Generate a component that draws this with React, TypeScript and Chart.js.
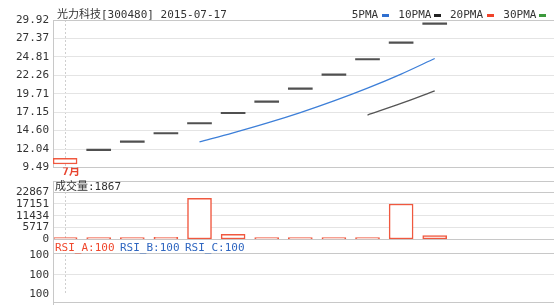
import React, { useEffect, useRef } from 'react';
import { Chart, registerables } from 'chart.js';

Chart.register(...registerables);

// ---------- data ----------
const titleText = '光力科技[300480] 2015-07-17';
const dayIndex = [0, 1, 2, 3, 4, 5, 6, 7, 8, 9, 10, 11];
const openPrices = [9.97, 11.82, 12.98, 14.13, 15.52, 16.94, 18.52, 20.32, 22.26, 24.38, 26.69, 29.32];
const closePrices = [10.75, 11.82, 12.98, 14.13, 15.52, 16.94, 18.52, 20.32, 22.26, 24.38, 26.69, 29.32];
const ma5Values = [null, null, null, null, 13.04, 14.28, 15.62, 17.09, 18.71, 20.48, 22.43, 24.59];
const ma10Values = [null, null, null, null, null, null, null, null, null, 16.76, 18.36, 20.11];
const volumes = [150, 180, 200, 1060, 19830, 2500, 220, 260, 300, 950, 17080, 1867];
const priceTickLabels = ['9.49', '12.04', '14.60', '17.15', '19.71', '22.26', '24.81', '27.37', '29.92'];
const volumeTickLabels = ['0', '5717', '11434', '17151', '22867'];
const rsiTickValues = [99, 100, 101];
const rsiTickLabels = ['100', '100', '100'];
const rsiNames = ['RSI_A', 'RSI_B', 'RSI_C'];
const rsiValues = [100, 100, 100];
const maNames = ['5PMA', '10PMA', '20PMA', '30PMA'];
const monthTickIndex = [0];
const monthLabels = ['7月'];
const volumeName = '成交量';

// ---------- style ----------
const FONT = '"DejaVu Sans Mono", "Noto Sans CJK SC", monospace';
const RED = '#f0583f';
const BLUE = '#3d7fd8';
const DARK = '#505050';
const GRID = '#e4e4e4';
const FRAME = '#c8c8c8';
const TEXT = '#333333';
const X_MIN = -0.36;
const X_MAX = 14.55;
const AXIS_W = 53;
const maColors = ['#2f6fd0', '#222222', '#f0432a', '#3c9a3c'];
const rsiColors = ['#f0472c', '#2f66c0', '#2f66c0'];

function xAxis(height: number, showLabel: boolean) {
  return {
    type: 'linear',
    min: X_MIN,
    max: X_MAX,
    offset: false,
    afterBuildTicks: (s: any) => {
      s.ticks = monthTickIndex.map((v) => ({ value: v }));
    },
    afterFit: (s: any) => {
      s.height = height;
    },
    grid: { display: true, offset: false, color: '#cfcfcf', lineWidth: 1, drawTicks: false },
    border: { display: false, dash: [2, 2] },
    ticks: {
      display: showLabel,
      autoSkip: false,
      maxRotation: 0,
      padding: -2,
      labelOffset: 6,
      color: '#e8432e',
      font: { family: FONT, size: 11, weight: 'bold' },
      callback: (_v: any, i: number) => monthLabels[i],
    },
  };
}

function yAxis(min: number, max: number, values: number[], labels: string[], gridColor: any) {
  return {
    type: 'linear',
    position: 'left',
    min,
    max,
    afterBuildTicks: (s: any) => {
      s.ticks = values.map((v) => ({ value: v }));
    },
    afterFit: (s: any) => {
      s.width = AXIS_W;
    },
    grid: { color: gridColor, drawTicks: false, lineWidth: 1 },
    border: { display: true, color: FRAME },
    ticks: {
      autoSkip: false,
      padding: 4,
      color: TEXT,
      font: { family: FONT, size: 11 },
      callback: (_v: any, i: number) => labels[i],
    },
  };
}

const edgeGrid = (n: number) => (ctx: any) => (ctx.index === 0 || ctx.index === n - 1 ? FRAME : GRID);

const basePlugins = { legend: { display: false }, tooltip: { enabled: false }, title: { display: false } };

export default function App() {
  const mainRef = useRef<HTMLCanvasElement>(null);
  const volRef = useRef<HTMLCanvasElement>(null);
  const rsiRef = useRef<HTMLCanvasElement>(null);

  useEffect(() => {
    const priceValues = priceTickLabels.map((l) => parseFloat(l));
    const volValues = volumeTickLabels.map((l) => parseFloat(l));

    const main = new Chart(mainRef.current as HTMLCanvasElement, {
      type: 'bar',
      data: {
        datasets: [
          {
            type: 'bar',
            data: dayIndex.map((d, i) => ({ x: d, y: [openPrices[i], closePrices[i]] })) as any,
            barThickness: 24,
            minBarLength: 1.5,
            borderSkipped: false,
            borderWidth: dayIndex.map((_, i) => (closePrices[i] !== openPrices[i] ? 1.5 : 0)),
            borderColor: dayIndex.map((_, i) => (closePrices[i] >= openPrices[i] ? RED : DARK)),
            backgroundColor: dayIndex.map((_, i) => (closePrices[i] !== openPrices[i] ? '#ffffff' : DARK)),
            order: 2,
          } as any,
          {
            type: 'line',
            data: dayIndex.map((d, i) => ({ x: d, y: ma5Values[i] })),
            borderColor: BLUE,
            borderWidth: 1.3,
            pointRadius: 0,
            cubicInterpolationMode: 'monotone',
            order: 1,
          } as any,
          {
            type: 'line',
            data: dayIndex.map((d, i) => ({ x: d, y: ma10Values[i] })),
            borderColor: '#555555',
            borderWidth: 1.3,
            pointRadius: 0,
            cubicInterpolationMode: 'monotone',
            order: 1,
          } as any,
        ],
      },
      options: {
        animation: false,
        responsive: false,
        devicePixelRatio: 1,
        layout: { padding: { top: 20, left: 0, right: 0, bottom: 0 } },
        plugins: basePlugins,
        scales: {
          x: xAxis(16.5, true),
          y: yAxis(9.49, 29.92, priceValues, priceTickLabels, edgeGrid(priceValues.length)),
        } as any,
      },
    });

    const vol = new Chart(volRef.current as HTMLCanvasElement, {
      type: 'bar',
      data: {
        datasets: [
          {
            data: dayIndex.map((d, i) => ({ x: d, y: volumes[i] })),
            barThickness: 24,
            minBarLength: 2,
            borderSkipped: false,
            borderWidth: 1.5,
            borderColor: RED,
            backgroundColor: '#ffffff',
          } as any,
        ],
      },
      options: {
        animation: false,
        responsive: false,
        devicePixelRatio: 1,
        layout: { padding: { top: 11, left: 0, right: 0, bottom: 0 } },
        plugins: basePlugins,
        scales: {
          x: xAxis(13.5, false),
          y: yAxis(0, 22867, volValues, volumeTickLabels, edgeGrid(volValues.length)),
        } as any,
      },
    });

    const rsi = new Chart(rsiRef.current as HTMLCanvasElement, {
      type: 'line',
      data: { datasets: [] },
      options: {
        animation: false,
        responsive: false,
        devicePixelRatio: 1,
        layout: { padding: { top: 14, left: 0, right: 0, bottom: 0 } },
        plugins: basePlugins,
        scales: {
          x: xAxis(5, false),
          y: yAxis(99, 101, rsiTickValues, rsiTickLabels, (ctx: any) => (ctx.index === 1 ? GRID : 'rgba(0,0,0,0)')),
        } as any,
      },
    });

    return () => {
      main.destroy();
      vol.destroy();
      rsi.destroy();
    };
  }, []);

  const textStyle = (left: number, centerY: number, color: string, size = 11): React.CSSProperties => ({
    position: 'absolute',
    left,
    top: centerY - 6,
    height: 12,
    lineHeight: '12px',
    fontSize: size,
    fontFamily: FONT,
    color,
    whiteSpace: 'pre',
  });

  const legendLefts = [351.7, 398.3, 450, 503.3];
  const swatchLefts = [381.7, 434.3, 486.7, 539.3];
  const rsiLefts = [55, 120, 185];

  return (
    <div
      style={{
        position: 'fixed',
        left: 0,
        top: 0,
        width: 554,
        height: 305,
        background: '#ffffff',
        overflow: 'hidden',
      }}
    >
      <canvas ref={mainRef} width={554} height={184} style={{ position: 'absolute', left: 0, top: 0, width: 554, height: 184 }} />
      <canvas ref={volRef} width={554} height={72} style={{ position: 'absolute', left: 0, top: 181, width: 554, height: 72 }} />
      <canvas ref={rsiRef} width={554} height={64} style={{ position: 'absolute', left: 0, top: 241, width: 554, height: 64 }} />

      {/* panel frame lines */}
      <div style={{ position: 'absolute', left: AXIS_W, right: 0, top: 181, height: 1, background: FRAME }} />
      <div style={{ position: 'absolute', left: AXIS_W, right: 0, top: 252.5, height: 1, background: FRAME }} />
      <div style={{ position: 'absolute', left: AXIS_W, right: 0, top: 301.5, height: 1, background: FRAME }} />
      <div style={{ position: 'absolute', left: AXIS_W - 0.5, top: 181, width: 1, height: 124, background: FRAME }} />

      <div style={textStyle(57, 15, TEXT)}>{titleText}</div>

      {maNames.map((n, i) => (
        <React.Fragment key={n}>
          <div style={textStyle(legendLefts[i], 15, TEXT)}>{n}</div>
          <div
            style={{
              position: 'absolute',
              left: swatchLefts[i],
              top: 13.5,
              width: 7,
              height: 3,
              background: maColors[i],
            }}
          />
        </React.Fragment>
      ))}

      <div style={textStyle(55, 187, TEXT)}>{`${volumeName}:${volumes[volumes.length - 1]}`}</div>

      {rsiNames.map((n, i) => (
        <div key={n} style={textStyle(rsiLefts[i], 248, rsiColors[i])}>{`${n}:${rsiValues[i]}`}</div>
      ))}
    </div>
  );
}
